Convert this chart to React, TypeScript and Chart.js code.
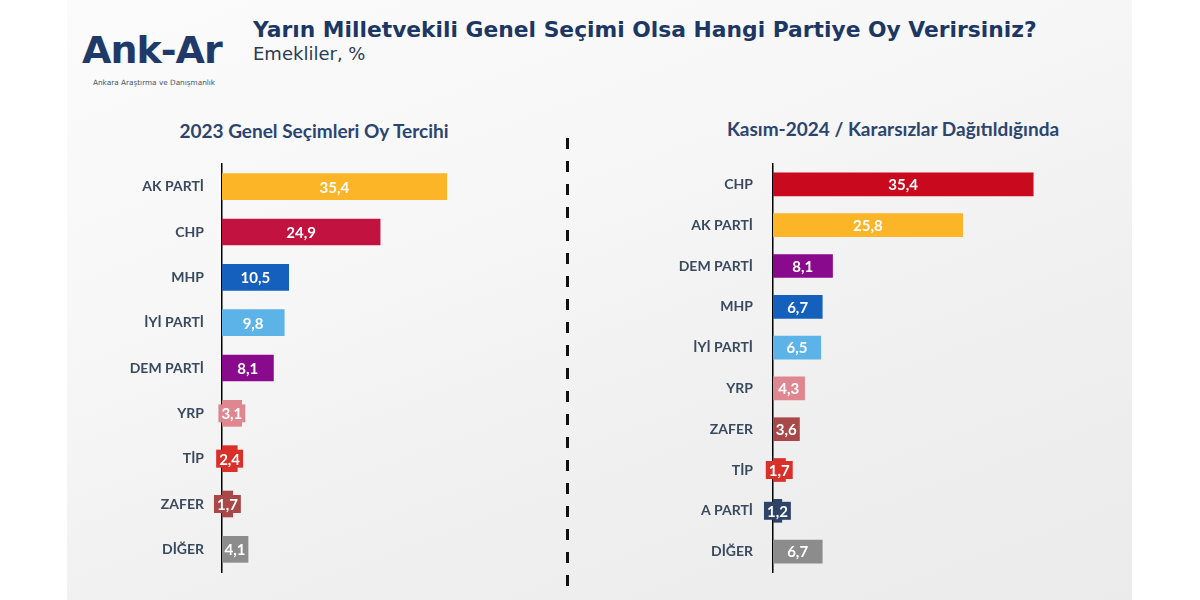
import React, { useEffect, useRef } from "react";
import { Chart, registerables } from "chart.js";

Chart.register(...registerables);

const leftCategories = ["AK PARTİ", "CHP", "MHP", "İYİ PARTİ", "DEM PARTİ", "YRP", "TİP", "ZAFER", "DİĞER"];
const leftValues = [35.4, 24.9, 10.5, 9.8, 8.1, 3.1, 2.4, 1.7, 4.1];
const leftColors = ["#FBB526", "#C21240", "#1560BD", "#5CB3E8", "#8A0A8E", "#DF8790", "#D9302A", "#A84848", "#8C8C8C"];

const rightCategories = ["CHP", "AK PARTİ", "DEM PARTİ", "MHP", "İYİ PARTİ", "YRP", "ZAFER", "TİP", "A PARTİ", "DİĞER"];
const rightValues = [35.4, 25.8, 8.1, 6.7, 6.5, 4.3, 3.6, 1.7, 1.2, 6.7];
const rightColors = ["#C8091E", "#FBB526", "#8A0A8E", "#1560BD", "#5CB3E8", "#DF8790", "#A84848", "#D9302A", "#2D4468", "#8C8C8C"];

const titleText = "Yarın Milletvekili Genel Seçimi Olsa Hangi Partiye Oy Verirsiniz?";
const subtitleText = "Emekliler, %";
const leftPanelTitle = "2023 Genel Seçimleri Oy Tercihi";
const rightPanelTitle = "Kasım-2024 / Kararsızlar Dağıtıldığında";

const valueLabels = {
  id: "valueLabels",
  afterDatasetsDraw(chart: any) {
    const ctx = chart.ctx;
    const meta = chart.getDatasetMeta(0);
    const ds = chart.data.datasets[0];
    const fontSize = chart.options.plugins.valueLabels?.fontSize || 14;
    ctx.save();
    ctx.font = `bold ${fontSize}px Lato`;
    ctx.textAlign = "center";
    ctx.textBaseline = "middle";
    meta.data.forEach((bar: any, i: number) => {
      const v = ds.data[i] as number;
      const txt = v.toFixed(1).replace(".", ",");
      const { x, y, base } = bar.getProps(["x", "y", "base"], true);
      const cx = (x + base) / 2;
      const tw = ctx.measureText(txt).width;
      if (tw + 4 > x - base) {
        ctx.fillStyle = ds.backgroundColor[i];
        ctx.fillRect(cx - tw / 2 - 3, y - 9, tw + 6, 18);
      }
      ctx.fillStyle = "#ffffff";
      ctx.fillText(txt, cx, y + 1);
    });
    ctx.restore();
  },
};

const LABEL_FONT = 14;

function BarPanel(props: {
  labels: string[];
  values: number[];
  colors: string[];
  left: number;
  top: number;
  width: number;
  height: number;
  thickness: number;
  pad: number;
  fontSize: number;
}) {
  const ref = useRef<HTMLCanvasElement>(null);
  // Chart.js adds half a label height plus tick padding above and below a vertical axis
  const extra = LABEL_FONT / 2 + props.pad;
  const cTop = props.top - extra;
  const cHeight = props.height + 2 * extra;
  useEffect(() => {
    if (!ref.current) return;
    const chart = new Chart(ref.current, {
      type: "bar",
      data: {
        labels: props.labels,
        datasets: [
          {
            data: props.values,
            backgroundColor: props.colors,
            barThickness: props.thickness,
            borderWidth: 0,
          },
        ],
      },
      options: {
        indexAxis: "y",
        responsive: false,
        animation: false,
        layout: { padding: 0 },
        plugins: {
          legend: { display: false },
          tooltip: { enabled: false },
          valueLabels: { fontSize: props.fontSize },
        } as any,
        scales: {
          x: { display: false, min: 0, max: 40 },
          y: {
            grid: { display: false, drawTicks: false },
            border: { display: true, color: "#000000", width: 1.5 },
            ticks: {
              color: "#394a5e",
              font: { family: "Lato", weight: "bold", size: LABEL_FONT, lineHeight: 1 },
              padding: props.pad,
            },
            afterFit(scale: any) {
              scale.width = 122;
            },
          },
        },
      },
      plugins: [valueLabels],
    });
    return () => chart.destroy();
  }, []);
  return (
    <canvas
      ref={ref}
      width={props.width}
      height={cHeight}
      style={{ position: "absolute", left: props.left, top: cTop, width: props.width, height: cHeight }}
    />
  );
}

export default function App() {
  return (
    <div style={{ position: "fixed", left: 0, top: 0, width: 1200, height: 600, background: "#ffffff", overflow: "hidden" }}>
      <div
        style={{
          position: "absolute",
          left: 67,
          top: 0,
          width: 1065,
          height: 600,
          background: "linear-gradient(160deg, #fbfbfb 0%, #f7f7f7 35%, #f0f0f0 65%, #ebebeb 100%)",
        }}
      />
      {/* logo */}
      <div style={{ position: "absolute", left: 82, top: 26, fontFamily: "'DejaVu Sans'", fontWeight: "bold", fontSize: 38, color: "#1f3a68", letterSpacing: -1, lineHeight: "48px" }}>
        Ank-Ar
      </div>
      <div style={{ position: "absolute", left: 93, top: 78, fontFamily: "'DejaVu Sans'", fontSize: 7.3, color: "#44546a", whiteSpace: "nowrap" }}>
        Ankara Araştırma ve Danışmanlık
      </div>
      {/* title */}
      <div style={{ position: "absolute", left: 253, top: 16, fontFamily: "'DejaVu Sans'", fontWeight: "bold", fontSize: 21.8, color: "#1c3764", whiteSpace: "nowrap", lineHeight: "28px" }}>
        {titleText}
      </div>
      <div style={{ position: "absolute", left: 253, top: 42, fontFamily: "'DejaVu Sans'", fontSize: 18, color: "#2b3a55", whiteSpace: "nowrap", lineHeight: "24px" }}>
        {subtitleText}
      </div>
      {/* panel titles */}
      <div style={{ position: "absolute", left: 114, width: 400, top: 119, textAlign: "center", fontFamily: "Lato", fontWeight: "bold", fontSize: 19, color: "#2c4470", whiteSpace: "nowrap", lineHeight: "24px" }}>
        {leftPanelTitle}
      </div>
      <div style={{ position: "absolute", left: 693, width: 400, top: 117, textAlign: "center", fontFamily: "Lato", fontWeight: "bold", fontSize: 19, color: "#2c4470", whiteSpace: "nowrap", lineHeight: "24px" }}>
        {rightPanelTitle}
      </div>
      {/* divider */}
      <div
        style={{
          position: "absolute",
          left: 566,
          top: 138,
          width: 3,
          height: 456,
          background: "repeating-linear-gradient(to bottom, #111111 0px, #111111 11px, transparent 11px, transparent 23px)",
        }}
      />
      <BarPanel labels={leftCategories} values={leftValues} colors={leftColors} left={100} top={164} width={376} height={408} thickness={26} pad={18} fontSize={15} />
      <BarPanel labels={rightCategories} values={rightValues} colors={rightColors} left={651} top={164} width={416} height={408} thickness={23} pad={20} fontSize={15} />
    </div>
  );
}
